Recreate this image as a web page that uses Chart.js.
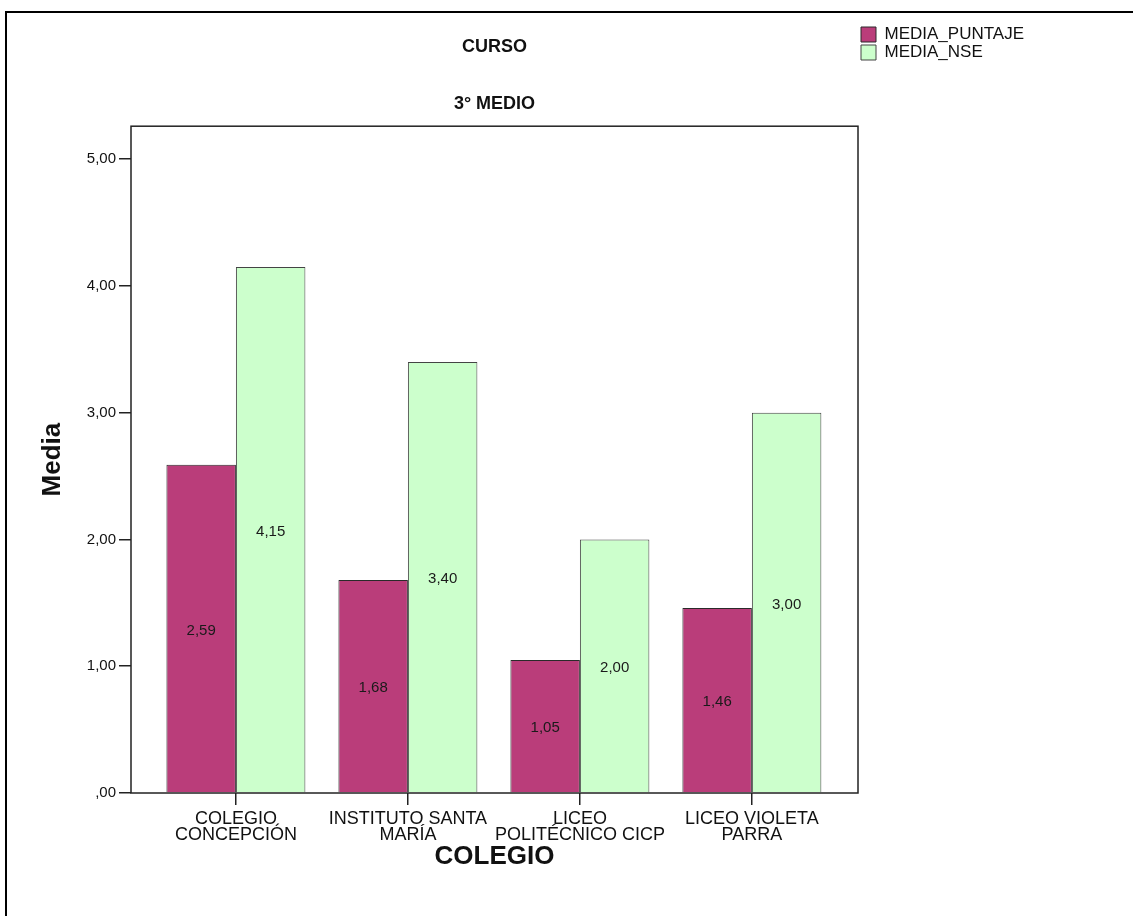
<!DOCTYPE html>
<html>
<head>
<meta charset="utf-8">
<script src="https://cdn.jsdelivr.net/npm/chart.js@4.4.1/dist/chart.umd.min.js"></script>
<style>
  html, body { margin: 0; padding: 0; background: #fff; }
  #wrap { width: 1133px; height: 916px; position: relative; }
</style>
</head>
<body>
<div id="wrap"><canvas id="c" width="1133" height="916"></canvas></div>
<script>
const categories = [
  ['COLEGIO', 'CONCEPCIÓN'],
  ['INSTITUTO SANTA', 'MARÍA'],
  ['LICEO', 'POLITÉCNICO CICP'],
  ['LICEO VIOLETA', 'PARRA']
];
const seriesNames = ['MEDIA_PUNTAJE', 'MEDIA_NSE'];
const mediaPuntaje = [2.59, 1.68, 1.05, 1.46];
const mediaNse = [4.15, 3.40, 2.00, 3.00];
const yTicks = [0, 1, 2, 3, 4, 5];

const fmt = v => v === 0 ? ',00' : v.toFixed(2).replace('.', ',');
const FONT = "'Liberation Sans', Arial, sans-serif";

const toPoints = arr => arr.map((v, i) => ({ x: i, y: v }));

const framePlugin = {
  id: 'frame',
  afterDatasetsDraw(chart) {
    const { ctx, chartArea: a } = chart;
    ctx.save();
    ctx.strokeStyle = '#222';
    ctx.lineWidth = 1.5;
    ctx.strokeRect(a.left, a.top, a.right - a.left, a.bottom - a.top);
    ctx.restore();
  },
  afterDraw(chart) {
    const { ctx } = chart;
    ctx.save();
    ctx.strokeStyle = '#000';
    ctx.lineWidth = 2;
    ctx.beginPath();
    ctx.moveTo(6, 916);
    ctx.lineTo(6, 12);
    ctx.lineTo(1133, 12);
    ctx.stroke();
    ctx.restore();
  }
};

const valueLabels = {
  id: 'valueLabels',
  afterDatasetsDraw(chart) {
    const { ctx } = chart;
    ctx.save();
    ctx.font = '15px ' + FONT;
    ctx.fillStyle = '#1a1a1a';
    ctx.textAlign = 'center';
    ctx.textBaseline = 'middle';
    chart.data.datasets.forEach((ds, di) => {
      const meta = chart.getDatasetMeta(di);
      meta.data.forEach((bar, i) => {
        const v = ds.data[i].y;
        const yMid = (bar.y + bar.base) / 2 + 2;
        ctx.fillText(fmt(v), bar.x, yMid);
      });
    });
    ctx.restore();
  }
};

const legendMover = {
  id: 'legendMover',
  afterLayout(chart) {
    const lg = chart.legend;
    if (!lg) return;
    const w = lg.width, h = lg.height;
    lg.left = 860; lg.top = 25;
    lg.right = lg.left + w; lg.bottom = lg.top + h;
  }
};

new Chart(document.getElementById('c'), {
  type: 'bar',
  data: {
    datasets: [
      { label: seriesNames[0], data: toPoints(mediaPuntaje), backgroundColor: '#BA3D7A', borderColor: '#2a2a2a', borderWidth: 1 },
      { label: seriesNames[1], data: toPoints(mediaNse), backgroundColor: '#CCFFCC', borderColor: '#444', borderWidth: 1 }
    ]
  },
  options: {
    responsive: false,
    animation: false,
    devicePixelRatio: 1,
    categoryPercentage: 0.808,
    barPercentage: 1,
    layout: { padding: { left: 37, right: 275, top: 0, bottom: 44 } },
    plugins: {
      title: {
        display: true, text: 'CURSO', color: '#111', fullSize: false,
        font: { family: FONT, size: 18, weight: 'bold' },
        padding: { top: 36, bottom: 36 }
      },
      subtitle: {
        display: true, text: '3° MEDIO', color: '#111', fullSize: false,
        font: { family: FONT, size: 18, weight: 'bold' },
        padding: { top: 0, bottom: 11 }
      },
      legend: {
        position: 'chartArea', align: 'start',
        labels: {
          color: '#111', boxWidth: 15, boxHeight: 15, padding: 1,
          font: { family: FONT, size: 17 }
        }
      },
      tooltip: { enabled: false }
    },
    scales: {
      x: {
        type: 'linear', min: -0.61, max: 3.617, offset: false,
        afterBuildTicks: s => { s.ticks = categories.map((_, i) => ({ value: i })); },
        afterFit: s => { s.height = 916 - 44 - 793; },
        border: { display: false },
        grid: { display: true, offset: false, drawOnChartArea: false, drawTicks: true, tickLength: 12, color: '#222', lineWidth: 1.5 },
        ticks: {
          autoSkip: false, maxRotation: 0, minRotation: 0, padding: 6,
          color: '#111', font: { family: FONT, size: 18, lineHeight: 0.89 },
          callback: v => categories[v]
        },
        title: {
          display: true, text: 'COLEGIO', color: '#111',
          font: { family: FONT, size: 26, weight: 'bold' },
          padding: { top: 0, bottom: 0 }
        }
      },
      y: {
        min: 0, max: 5.26,
        afterBuildTicks: s => { s.ticks = yTicks.map(v => ({ value: v })); },
        afterFit: s => { s.width = 131 - 37; },
        border: { display: false },
        grid: { display: true, drawOnChartArea: false, drawTicks: true, tickLength: 12, color: '#222', lineWidth: 1.5 },
        ticks: {
          padding: 3, color: '#111', font: { family: FONT, size: 15 },
          callback: v => fmt(v)
        },
        title: {
          display: true, text: 'Media', color: '#111',
          font: { family: FONT, size: 26, weight: 'bold' },
          padding: { top: 0, bottom: 0 }
        }
      }
    }
  },
  plugins: [framePlugin, valueLabels, legendMover]
});
</script>
</body>
</html>
